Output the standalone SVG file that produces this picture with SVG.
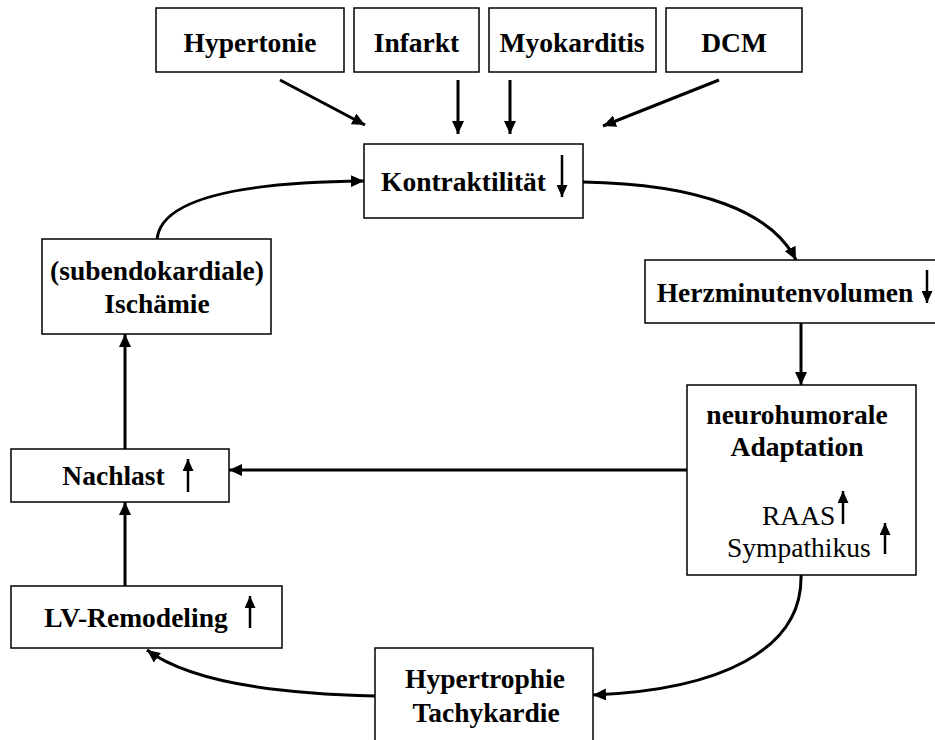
<svg xmlns="http://www.w3.org/2000/svg" width="935" height="740" viewBox="0 0 935 740">
<style>
.box{fill:#fff;stroke:#000;stroke-width:1.5}
.b{font-family:"Liberation Serif","Times New Roman",serif;font-weight:bold;font-size:27.5px;fill:#000;text-anchor:middle}
.r{font-family:"Liberation Serif","Times New Roman",serif;font-size:27.5px;fill:#000}
.c{fill:none;stroke:#000;stroke-width:3}
.s{fill:none;stroke:#000;stroke-width:2.5}
</style>
<defs>
<marker id="ah" markerUnits="userSpaceOnUse" markerWidth="13" markerHeight="12" refX="13" refY="6" orient="auto">
<path d="M0,0 L13,6 L0,12 z" fill="#000"/>
</marker>
<marker id="sh" markerUnits="userSpaceOnUse" markerWidth="12" markerHeight="11" refX="12" refY="5.5" orient="auto">
<path d="M0,0 L12,5.5 L0,11 z" fill="#000"/>
</marker>
</defs>
<rect width="935" height="740" fill="#fff"/>
<g id="connectors">
<path class="c" d="M280,80 L365,125" marker-end="url(#ah)"/>
<path class="c" d="M458,80 L458,134" marker-end="url(#ah)"/>
<path class="c" d="M510,80 L510,134" marker-end="url(#ah)"/>
<path class="c" d="M719,80 L603,126" marker-end="url(#ah)"/>
<path class="c" d="M583,182 C700,184 772,212 796,260" marker-end="url(#ah)"/>
<path class="c" d="M801,323 L801,385" marker-end="url(#ah)"/>
<path class="c" d="M687,470 L229,470" marker-end="url(#ah)"/>
<path class="c" d="M801,575 C803,650 720,690 593,695" marker-end="url(#ah)"/>
<path class="c" d="M375,696 C280,694 190,682 147,650" marker-end="url(#ah)"/>
<path class="c" d="M125,586 L125,502" marker-end="url(#ah)"/>
<path class="c" d="M125,449 L125,334" marker-end="url(#ah)"/>
<path class="c" d="M157,240 C160,196 250,182 364,181" marker-end="url(#ah)"/>
</g>
<g id="hypertonie"><rect class="box" x="156" y="8" width="188" height="64"/><text class="b" x="250" y="52">Hypertonie</text></g>
<g id="infarkt"><rect class="box" x="354" y="8" width="125" height="64"/><text class="b" x="416.5" y="52">Infarkt</text></g>
<g id="myokarditis"><rect class="box" x="489" y="8" width="167" height="64"/><text class="b" x="572" y="52">Myokarditis</text></g>
<g id="dcm"><rect class="box" x="666" y="8" width="136" height="64"/><text class="b" x="734" y="52">DCM</text></g>
<g id="kontraktilitaet"><rect class="box" x="364" y="144" width="219" height="74"/><text class="b" x="463.5" y="191">Kontraktilität</text><path class="s" d="M562,155 L562,197" marker-end="url(#sh)"/></g>
<g id="herzminutenvolumen"><rect class="box" x="645" y="260" width="295" height="63"/><text class="b" x="785" y="302">Herzminutenvolumen</text><path class="s" d="M927,270 L927,303" marker-end="url(#sh)"/></g>
<g id="neurohumorale"><rect class="box" x="687" y="385" width="229" height="190"/><text class="b" x="797" y="424">neurohumorale</text><text class="b" x="797" y="456">Adaptation</text><text class="r" x="762" y="525">RAAS</text><path class="s" d="M843,524 L843,491" marker-end="url(#sh)"/><text class="r" x="727" y="557">Sympathikus</text><path class="s" d="M885,554 L885,523" marker-end="url(#sh)"/></g>
<g id="nachlast"><rect class="box" x="11" y="449" width="218" height="53"/><text class="b" x="113.5" y="485">Nachlast</text><path class="s" d="M188,492 L188,459" marker-end="url(#sh)"/></g>
<g id="ischaemie"><rect class="box" x="42" y="239" width="229" height="95"/><text class="b" x="157" y="280">(subendokardiale)</text><text class="b" x="157" y="313">Ischämie</text></g>
<g id="lvremodeling"><rect class="box" x="11" y="586" width="271" height="62"/><text class="b" x="136" y="627">LV-Remodeling</text><path class="s" d="M250,628 L250,596" marker-end="url(#sh)"/></g>
<g id="hypertrophie"><rect class="box" x="375" y="648" width="218" height="100"/><text class="b" x="485" y="688">Hypertrophie</text><text class="b" x="486" y="722">Tachykardie</text></g>
</svg>
